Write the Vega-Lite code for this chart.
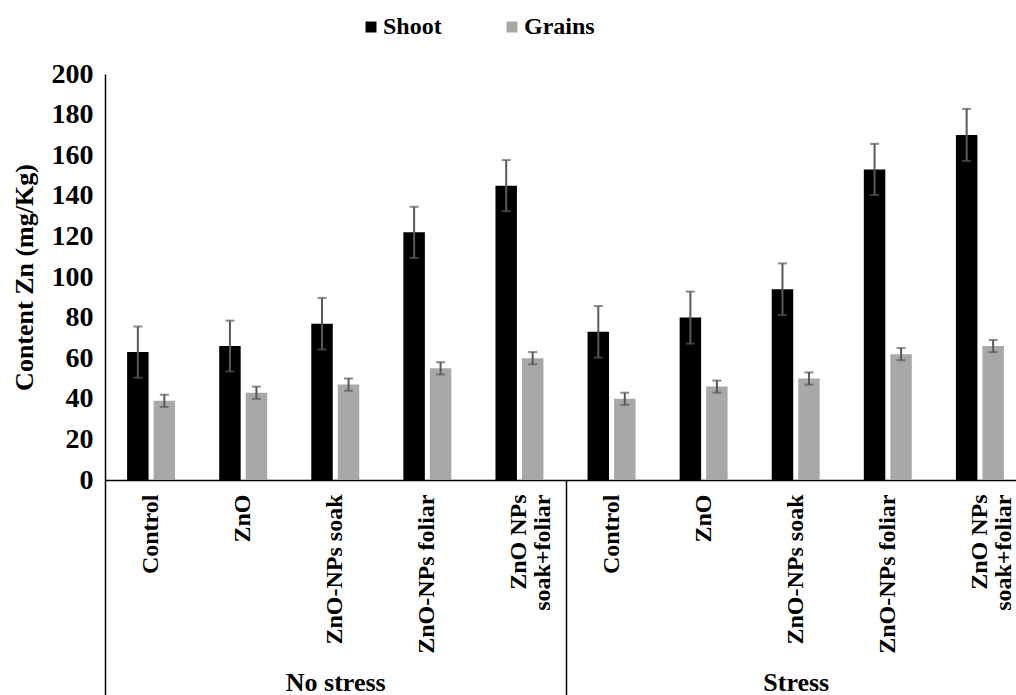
{
  "$schema": "https://vega.github.io/schema/vega-lite/v6.json",
  "width": 911,
  "height": 406,
  "autosize": "none",
  "padding": {"left": 105, "top": 74, "right": 0, "bottom": 215},
  "config": {
    "view": {"stroke": null},
    "font": "Liberation Serif"
  },
  "data": {
    "values": [
      {"group": "No stress", "key": "No stress / Control", "series": "Shoot", "value": 63, "lo": 50.4, "hi": 75.6},
      {"group": "No stress", "key": "No stress / Control", "series": "Grains", "value": 39, "lo": 36, "hi": 42},
      {"group": "No stress", "key": "No stress / ZnO", "series": "Shoot", "value": 66, "lo": 53.5, "hi": 78.5},
      {"group": "No stress", "key": "No stress / ZnO", "series": "Grains", "value": 43, "lo": 40, "hi": 46},
      {"group": "No stress", "key": "No stress / ZnO-NPs soak", "series": "Shoot", "value": 77, "lo": 64.3, "hi": 89.7},
      {"group": "No stress", "key": "No stress / ZnO-NPs soak", "series": "Grains", "value": 47, "lo": 44, "hi": 50},
      {"group": "No stress", "key": "No stress / ZnO-NPs foliar", "series": "Shoot", "value": 122, "lo": 109.4, "hi": 134.6},
      {"group": "No stress", "key": "No stress / ZnO-NPs foliar", "series": "Grains", "value": 55, "lo": 52, "hi": 58},
      {"group": "No stress", "key": "No stress / ZnO NPs soak+foliar", "series": "Shoot", "value": 145, "lo": 132.4, "hi": 157.6},
      {"group": "No stress", "key": "No stress / ZnO NPs soak+foliar", "series": "Grains", "value": 60, "lo": 57, "hi": 63},
      {"group": "Stress", "key": "Stress / Control", "series": "Shoot", "value": 73, "lo": 60.3, "hi": 85.7},
      {"group": "Stress", "key": "Stress / Control", "series": "Grains", "value": 40, "lo": 37, "hi": 43},
      {"group": "Stress", "key": "Stress / ZnO", "series": "Shoot", "value": 80, "lo": 67.2, "hi": 92.8},
      {"group": "Stress", "key": "Stress / ZnO", "series": "Grains", "value": 46, "lo": 43, "hi": 49},
      {"group": "Stress", "key": "Stress / ZnO-NPs soak", "series": "Shoot", "value": 94, "lo": 81.3, "hi": 106.7},
      {"group": "Stress", "key": "Stress / ZnO-NPs soak", "series": "Grains", "value": 50, "lo": 47, "hi": 53},
      {"group": "Stress", "key": "Stress / ZnO-NPs foliar", "series": "Shoot", "value": 153, "lo": 140.4, "hi": 165.6},
      {"group": "Stress", "key": "Stress / ZnO-NPs foliar", "series": "Grains", "value": 62, "lo": 59, "hi": 65},
      {"group": "Stress", "key": "Stress / ZnO NPs soak+foliar", "series": "Shoot", "value": 170, "lo": 157.2, "hi": 182.8},
      {"group": "Stress", "key": "Stress / ZnO NPs soak+foliar", "series": "Grains", "value": 66, "lo": 63, "hi": 69}
    ]
  },
  "layer": [
    {
      "encoding": {
        "x": {
          "field": "key",
          "type": "nominal",
          "sort": null,
          "scale": {"range": [0, 921], "paddingInner": 0.479, "paddingOuter": 0.24},
          "axis": {
            "orient": "bottom",
            "offset": 0,
            "title": null,
            "ticks": false,
            "domainColor": "#000000",
            "domainWidth": 1.5,
            "labelAngle": 270,
            "labelPadding": 14,
            "labelFont": "Liberation Serif",
            "labelFontSize": 24,
            "labelFontWeight": "bold",
            "labelColor": "#000000",
            "labelLineHeight": 24,
            "labelLimit": 0,
            "labelExpr": "indexof(datum.value, 'soak+foliar') >= 0 ? ['ZnO NPs', 'soak+foliar'] : split(datum.value, ' / ')[1]"
          }
        },
        "xOffset": {
          "field": "series",
          "type": "nominal",
          "sort": ["Shoot", "Grains"],
          "scale": {"paddingInner": 0.189, "paddingOuter": 0}
        }
      },
      "layer": [
        {
          "mark": {"type": "bar"},
          "encoding": {
            "y": {
              "field": "value",
              "type": "quantitative",
              "scale": {"domain": [0, 200], "nice": false},
              "axis": {
                "values": [0, 20, 40, 60, 80, 100, 120, 140, 160, 180, 200],
                "grid": false,
                "ticks": false,
                "domainColor": "#000000",
                "domainWidth": 1.5,
                "labelFont": "Liberation Serif",
                "labelFontSize": 28,
                "labelFontWeight": "bold",
                "labelColor": "#000000",
                "labelPadding": 12,
                "title": "Content Zn (mg/Kg)",
                "titleFont": "Liberation Serif",
                "titleFontSize": 26,
                "titleFontWeight": "bold",
                "titleColor": "#000000",
                "titlePadding": 14
              }
            },
            "color": {
              "field": "series",
              "type": "nominal",
              "scale": {"domain": ["Shoot", "Grains"], "range": ["#000000", "#aaa7a7"]},
              "legend": {
                "title": null,
                "orient": "none",
                "legendX": 254,
                "legendY": -59,
                "direction": "horizontal",
                "symbolType": "square",
                "symbolSize": 121,
                "symbolStrokeWidth": 0,
                "labelFont": "Liberation Serif",
                "labelFontSize": 24,
                "labelFontWeight": "bold",
                "labelColor": "#000000",
                "labelOffset": 0,
                "columnPadding": 58
              }
            }
          }
        },
        {
          "mark": {"type": "rule", "color": "#595959", "strokeWidth": 2},
          "encoding": {
            "y": {"field": "lo", "type": "quantitative"},
            "y2": {"field": "hi"}
          }
        },
        {
          "mark": {"type": "tick", "color": "#595959", "thickness": 2, "size": 9},
          "encoding": {
            "y": {"field": "hi", "type": "quantitative"}
          }
        },
        {
          "mark": {"type": "tick", "color": "#595959", "thickness": 2, "size": 9},
          "encoding": {
            "y": {"field": "lo", "type": "quantitative"}
          }
        }
      ]
    },
    {
      "mark": {"type": "tick", "opacity": 0},
      "encoding": {
        "x": {
          "field": "group",
          "type": "nominal",
          "sort": ["No stress", "Stress"],
          "scale": {"range": [0, 921], "paddingInner": 0, "paddingOuter": 0},
          "axis": {
            "orient": "bottom",
            "offset": 0,
            "title": null,
            "domain": false,
            "ticks": true,
            "tickBand": "extent",
            "tickSize": 215,
            "tickColor": "#000000",
            "tickWidth": 1.5,
            "labelAngle": 0,
            "labelAlign": "center",
            "labelBaseline": "alphabetic",
            "labelPadding": -5,
            "labelFont": "Liberation Serif",
            "labelFontSize": 26,
            "labelFontWeight": "bold",
            "labelColor": "#000000"
          }
        }
      }
    }
  ],
  "resolve": {"scale": {"x": "independent"}, "axis": {"x": "independent"}}
}
